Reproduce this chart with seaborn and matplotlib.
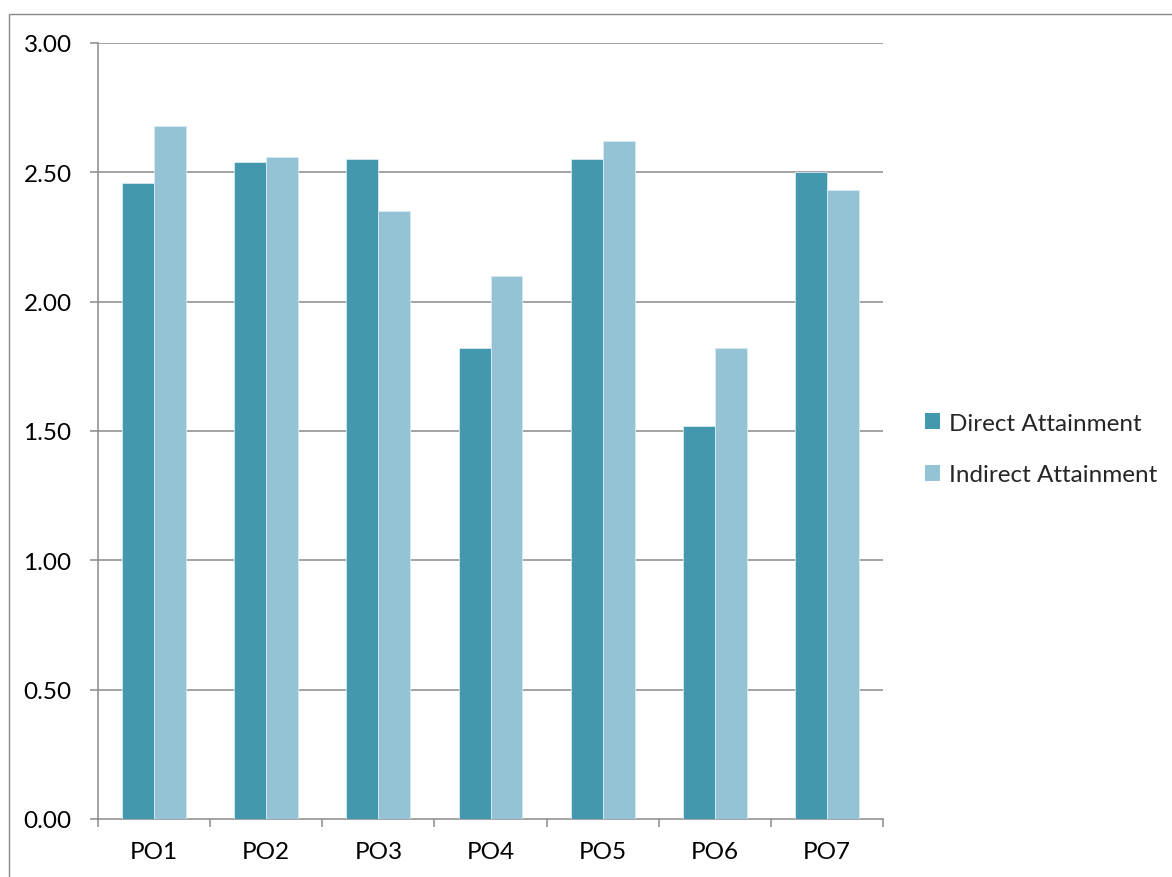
import pandas as pd
import numpy as np
import matplotlib
matplotlib.use('Agg')
import matplotlib.pyplot as plt
import seaborn as sns
from matplotlib.patches import Patch, Rectangle

# Data
categories = ['PO1', 'PO2', 'PO3', 'PO4', 'PO5', 'PO6', 'PO7']
direct_attainment = [2.46, 2.54, 2.55, 1.82, 2.55, 1.52, 2.50]
indirect_attainment = [2.68, 2.56, 2.35, 2.10, 2.62, 1.82, 2.43]
series_names = ['Direct Attainment', 'Indirect Attainment']
y_ticks = [0.0, 0.5, 1.0, 1.5, 2.0, 2.5, 3.0]

df = pd.DataFrame({
    'PO': categories * 2,
    'value': direct_attainment + indirect_attainment,
    'series': [series_names[0]] * len(categories) + [series_names[1]] * len(categories),
})

sns.set_theme(style='white')
plt.rcParams['font.family'] = ['Lato', 'DejaVu Sans']

colors = {'Direct Attainment': '#4398AE', 'Indirect Attainment': '#93C3D5'}
grid_col = '#8A8A8A'
fs = 17.5

fig = plt.figure(figsize=(11.72, 8.78), dpi=100)
ax = fig.add_axes([98 / 1172, 1 - 820 / 878, (883 - 98) / 1172, (820 - 44) / 878])

sns.barplot(data=df, x='PO', y='value', hue='series', palette=colors,
            width=0.57, gap=0, edgecolor='#D6EAF0', linewidth=0.6,
            saturation=1, ax=ax, legend=False, zorder=3)

ax.set_xlim(-0.5, len(categories) - 0.5)
ax.set_ylim(0, 3.0)
ax.set_yticks(y_ticks)
ax.set_yticklabels([f'{v:.2f}' for v in y_ticks])
ax.set_xlabel('')
ax.set_ylabel('')

# horizontal gridlines
for v in y_ticks[1:]:
    ax.axhline(v, color=grid_col, lw=1.1, zorder=1)

for s in ['top', 'right']:
    ax.spines[s].set_visible(False)
for s in ['left', 'bottom']:
    ax.spines[s].set_color(grid_col)
    ax.spines[s].set_linewidth(1.1)

# category boundary ticks on x axis
ax.set_xticks(np.arange(-0.5, len(categories)), minor=True)
ax.tick_params(axis='x', which='minor', length=6, width=1.1, color=grid_col, direction='out', bottom=True)
ax.tick_params(axis='x', which='major', length=0, pad=16, labelsize=fs, labelcolor='black')
ax.tick_params(axis='y', length=6, width=1.1, color=grid_col, direction='out', left=True,
               pad=13, labelsize=fs, labelcolor='black')

# legend on the right
handles = [Patch(facecolor=colors[n], edgecolor='none', label=n) for n in series_names]
fig.legend(handles=handles, loc='center left', bbox_to_anchor=(925 / 1172, 1 - 450 / 878),
           frameon=False, fontsize=fs, handlelength=0.62, handleheight=0.62,
           handletextpad=0.35, labelspacing=1.25, borderaxespad=0, borderpad=0)

# outer chart border
fig.patches.append(Rectangle((9 / 1172, -0.02), 1.1, 1 - 15 / 878 + 0.02,
                             transform=fig.transFigure, fill=False,
                             edgecolor='#898989', lw=1.0))

fig.savefig('out.png', dpi=100)
